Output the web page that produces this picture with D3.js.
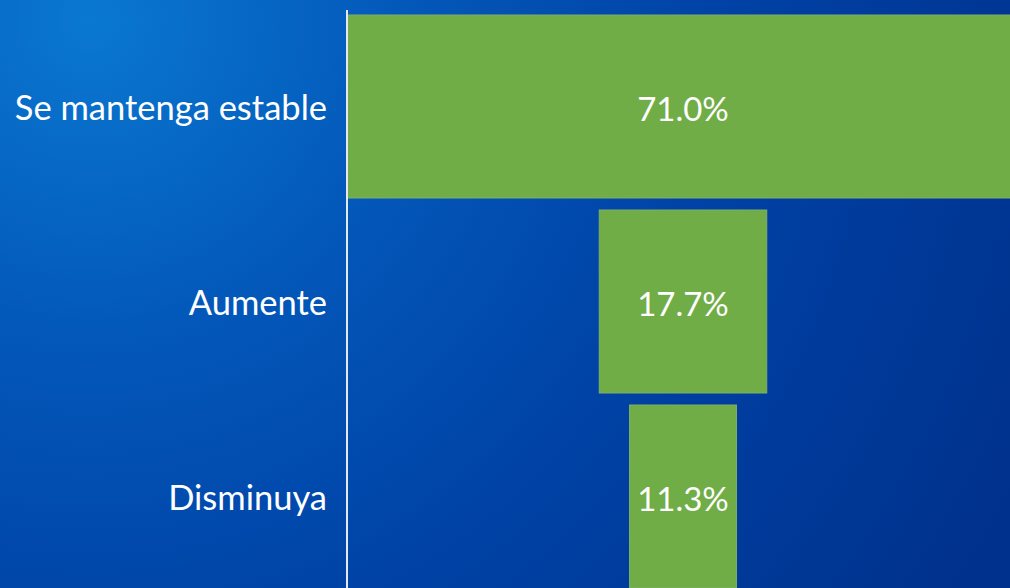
<!DOCTYPE html>
<html>
<head>
    <meta charset="utf-8">
    <script src="https://d3js.org/d3.v7.min.js"></script>
    <style>
        body { margin: 0; overflow: hidden; }
    </style>
</head>
<body>
    <svg width="1010" height="588"></svg>

    <script>
        // datos del gráfico
        var categories = ['Se mantenga estable', 'Aumente', 'Disminuya'];
        var values = [71.0, 17.7, 11.3];
        var valueLabels = ['71.0%', '17.7%', '11.3%'];

        var svg = d3.select("svg"),
            width = +svg.attr("width"),
            height = +svg.attr("height");

        // fondo azul con degradado
        var defs = svg.append("defs");
        var rg = defs.append("radialGradient")
            .attr("id", "bg")
            .attr("gradientUnits", "userSpaceOnUse")
            .attr("cx", 90).attr("cy", 20).attr("r", 1050);
        rg.append("stop").attr("offset", "0").attr("stop-color", "#0a78d0");
        rg.append("stop").attr("offset", "0.3").attr("stop-color", "#0358b9");
        rg.append("stop").attr("offset", "0.6").attr("stop-color", "#0042a6");
        rg.append("stop").attr("offset", "1").attr("stop-color", "#00318c");

        svg.append("rect")
            .attr("width", width)
            .attr("height", height)
            .attr("fill", "url(#bg)");

        var axisX = 347, centerX = 683;

        var y = d3.scaleBand()
            .domain(categories)
            .range([9, 594])
            .paddingInner(12 / 195)
            .paddingOuter(6 / 195);

        var w = d3.scaleLinear()
            .domain([0, 71])
            .range([0, centerX - axisX]);

        svg.selectAll(".bar")
            .data(values)
            .enter().append("rect")
            .attr("class", "bar")
            .attr("x", function(d) { return centerX - w(d); })
            .attr("y", function(d, i) { return y(categories[i]); })
            .attr("width", function(d) { return 2 * w(d); })
            .attr("height", y.bandwidth())
            .attr("fill", "#70ad47")
            .attr("stroke", "#7fae6a")
            .attr("stroke-width", 1);

        svg.selectAll(".val")
            .data(valueLabels)
            .enter().append("text")
            .attr("class", "val")
            .attr("x", centerX)
            .attr("y", function(d, i) { return y(categories[i]) + y.bandwidth() / 2 + 3; })
            .attr("dy", "0.35em")
            .attr("text-anchor", "middle")
            .attr("fill", "#ffffff")
            .style("font-family", "Lato, 'Open Sans', sans-serif")
            .style("font-size", "33px")
            .text(function(d) { return d; });

        svg.selectAll(".cat")
            .data(categories)
            .enter().append("text")
            .attr("class", "cat")
            .attr("x", axisX - 20)
            .attr("y", function(d) { return y(d) + y.bandwidth() / 2 + 1; })
            .attr("dy", "0.35em")
            .attr("text-anchor", "end")
            .attr("fill", "#ffffff")
            .style("font-family", "Lato, 'Open Sans', sans-serif")
            .style("font-size", "34.5px")
            .text(function(d) { return d; });

        svg.append("line")
            .attr("x1", axisX).attr("x2", axisX)
            .attr("y1", 10).attr("y2", height)
            .attr("stroke", "#e4e8f0")
            .attr("stroke-width", 2);
    </script>
</body>
</html>
